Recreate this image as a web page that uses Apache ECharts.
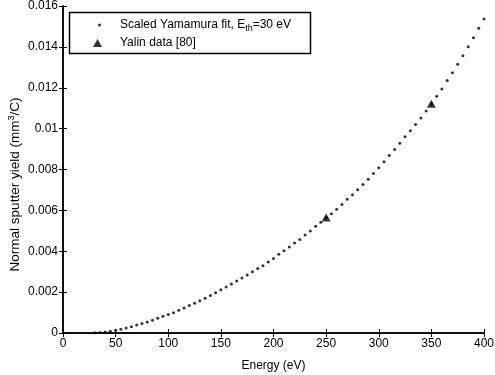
<!DOCTYPE html>
<html>
<head>
<meta charset="utf-8">
<script src="https://cdn.jsdelivr.net/npm/echarts@6/dist/echarts.min.js"></script>
<style>
  html, body {margin: 0; padding: 0; background: #fff;}
  #chart {width: 495px; height: 375px;}
</style>
</head>
<body>
<div id="chart"></div>
<script>
// Scaled Yamamura fit, every 5 eV
const fitEnergy = [
  30, 35, 40, 45, 50, 55, 60, 65, 70, 75, 80, 85, 90, 95, 100, 105, 110, 115, 120, 125,
  130, 135, 140, 145, 150, 155, 160, 165, 170, 175, 180, 185, 190, 195, 200, 205, 210, 215,
  220, 225, 230, 235, 240, 245, 250, 255, 260, 265, 270, 275, 280, 285, 290, 295, 300, 305,
  310, 315, 320, 325, 330, 335, 340, 345, 350, 355, 360, 365, 370, 375, 380, 385, 390, 395, 400
];
const fitYield = [
  0.00001, 0.00003, 0.00005, 0.00008, 0.00013, 0.00018, 0.00024, 0.00031, 0.00039, 0.00046,
  0.00054, 0.00062, 0.00072, 0.00082, 0.00090, 0.00099, 0.00111, 0.00122, 0.00134, 0.00145,
  0.00158, 0.00170, 0.00183, 0.00197, 0.00212, 0.00225, 0.00240, 0.00254, 0.00269, 0.00284,
  0.00300, 0.00315, 0.00329, 0.00347, 0.00365, 0.00385, 0.00403, 0.00421, 0.00440, 0.00458,
  0.00480, 0.00499, 0.00522, 0.00542, 0.00564, 0.00583, 0.00606, 0.00629, 0.00654, 0.00676,
  0.00701, 0.00727, 0.00752, 0.00781, 0.00809, 0.00838, 0.00868, 0.00898, 0.00929, 0.00960,
  0.00990, 0.01020, 0.01052, 0.01086, 0.01122, 0.01159, 0.01194, 0.01235, 0.01274, 0.01315,
  0.01357, 0.01401, 0.01445, 0.01491, 0.01537
];
// Yalin data [80]
const yalinEnergy = [250, 350];
const yalinYield = [0.00565, 0.01122];

const fitName = 'Scaled Yamamura fit, Eth=30 eV';
const yalinName = 'Yalin data [80]';

const font = 'Liberation Sans, Arial, Helvetica, sans-serif';
const black = '#000';

const chart = echarts.init(document.getElementById('chart'));

const xBase = {
  type: 'value', min: 0, max: 400, interval: 50,
  axisLine: {show: true, lineStyle: {color: black, width: 1.5}},
  axisTick: {show: true, inside: true, length: 4, lineStyle: {color: black}},
  splitLine: {show: false}
};
const yBase = {
  type: 'value', min: 0, max: 0.016, interval: 0.002,
  axisLine: {show: true, lineStyle: {color: black, width: 1.5}},
  axisTick: {show: true, inside: true, length: 4, lineStyle: {color: black}},
  splitLine: {show: false}
};

chart.setOption({
  animation: false,
  backgroundColor: '#fff',
  textStyle: {fontFamily: font},
  grid: {left: 63, right: 11, top: 6, bottom: 42, containLabel: false, outerBoundsMode: 'none'},
  xAxis: [
    Object.assign({}, xBase, {
      position: 'bottom',
      axisLabel: {color: black, fontSize: 12, margin: 5, fontFamily: font},
      name: 'Energy (eV)',
      nameLocation: 'middle',
      nameGap: 27,
      nameMoveOverlap: false,
      nameTextStyle: {color: black, fontSize: 12, fontFamily: font}
    }),
    Object.assign({}, xBase, {position: 'top', axisLabel: {show: false}})
  ],
  yAxis: [
    Object.assign({}, yBase, {
      position: 'left',
      axisLabel: {color: black, fontSize: 12, margin: 5, fontFamily: font},
      name: 'Normal sputter yield (mm{sup|3}/C)',
      nameLocation: 'middle',
      nameGap: 40,
      nameMoveOverlap: false,
      nameTextStyle: {
        color: black, fontSize: 13.5, fontFamily: font, lineHeight: 16, padding: [0, 30, 0, 0],
        rich: {sup: {fontSize: 9, verticalAlign: 'top', lineHeight: 16, color: black, fontFamily: font}}
      }
    }),
    Object.assign({}, yBase, {position: 'right', axisLabel: {show: false}})
  ],
  graphic: [{
    type: 'rect',
    z: 10,
    shape: {x: 69.5, y: 12.5, width: 241, height: 41},
    style: {fill: '#fff', stroke: black, lineWidth: 1.5}
  }],
  legend: [
    {
      z: 20,
      data: [{name: fitName, icon: 'circle'}],
      left: 98, top: 17, padding: 0,
      itemWidth: 3, itemHeight: 3,
      formatter: () => 'Scaled Yamamura fit, E{sub|th}=30 eV',
      textStyle: {
        color: black, fontSize: 12, fontFamily: font, lineHeight: 16, padding: [0, 0, 0, 14],
        rich: {sub: {fontSize: 9, verticalAlign: 'bottom', lineHeight: 16, color: black, fontFamily: font}}
      }
    },
    {
      z: 20,
      data: [{name: yalinName, icon: 'triangle'}],
      left: 93, top: 35, padding: 0,
      itemWidth: 9, itemHeight: 8,
      textStyle: {color: black, fontSize: 12, fontFamily: font, lineHeight: 16, padding: [0, 0, 0, 13]}
    }
  ],
  series: [
    {
      name: fitName,
      type: 'scatter',
      symbol: 'circle',
      symbolSize: 3,
      itemStyle: {color: black},
      data: fitEnergy.map((e, i) => [e, fitYield[i]])
    },
    {
      name: yalinName,
      type: 'scatter',
      symbol: 'triangle',
      symbolSize: [9, 8],
      itemStyle: {color: black},
      data: yalinEnergy.map((e, i) => [e, yalinYield[i]])
    }
  ]
});
</script>
</body>
</html>
